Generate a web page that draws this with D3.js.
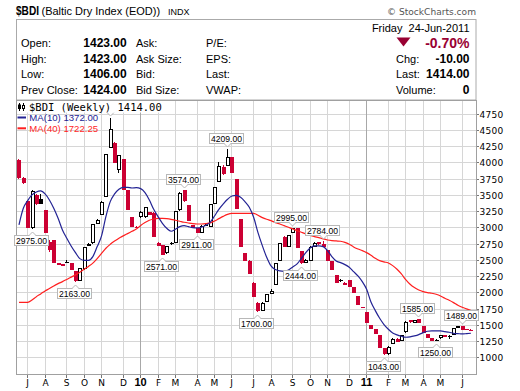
<!DOCTYPE html>
<html><head><meta charset="utf-8">
<script src="https://cdn.jsdelivr.net/npm/d3@7"></script>
<style>html,body{margin:0;padding:0;background:#fff;}svg{display:block;}</style>
</head><body><svg id="c" width="520" height="391"></svg>
<script>
// ---------- DATA ----------
const weekStart = "2009-06-22", weekEnd = "2011-06-20"; // Monday of first / last weekly bar
const opens  = [4040,3760,3400,2990,3500,3430,3270,2780,2800,2455,2430,2475,2458,2330,2182,2360,2715,2756,3060,3190,3474,4228,4305,3884,4048,3576,3156,3012,3157,3160,3230,3225,2766,2725,2602,2760,2766,3269,3574,3346,3038,2987,2915,3040,3013,3361,3705,3925,3951,4079,3746,3125,2602,2490,2151,1843,1720,1858,1976,2115,2489,2859,2705,2920,2987,2638,2460,2489,2705,2770,2740,2653,2489,2269,2185,2120,2192,2079,1945,1776,1694,1500,1433,1346,1141,1048,1207,1290,1254,1387,1577,1536,1585,1484,1356,1294,1275,1294,1346,1336,1346,1455,1489,1430,1423];
const highs  = [4060,3770,3400,3580,3510,3510,3270,2800,2800,2460,2440,2495,2460,2335,2375,2705,2760,3055,3130,3400,4130,4679,4310,4120,4050,3580,3160,3020,3260,3320,3240,3230,2780,2730,2720,2775,3260,3540,3574,3350,3040,2990,3030,3050,3365,3620,4000,3960,4209,4080,3750,3130,2605,2495,2155,1845,1845,1980,2050,2460,2760,2865,2890,2995,2990,2640,2510,2710,2770,2775,2784,2655,2490,2270,2205,2160,2195,2080,1950,1780,1700,1505,1435,1350,1145,1170,1295,1295,1350,1555,1580,1580,1585,1485,1360,1295,1285,1350,1350,1340,1460,1485,1489,1435,1430];
const lows   = [3750,3670,2990,2975,3350,3360,2910,2620,2450,2420,2405,2445,2350,2163,2175,2350,2710,2750,3055,3185,3470,4220,3987,3840,3576,3269,3002,2995,3150,3150,3190,2848,2710,2571,2595,2735,2760,3260,3397,3105,2987,2911,2912,3025,3010,3355,3700,3800,3945,3843,3289,2694,2490,2284,1925,1700,1715,1855,1970,2110,2485,2705,2700,2910,2679,2444,2455,2485,2700,2735,2705,2489,2346,2151,2160,2110,2079,1997,1807,1766,1525,1433,1361,1141,1043,1043,1200,1243,1250,1380,1536,1530,1525,1371,1294,1259,1250,1290,1310,1290,1340,1450,1420,1415,1406];
const closes = [3760,3680,2990,3560,3356,3365,2910,2650,2455,2425,2412,2465,2350,2182,2370,2705,2745,3053,3115,3397,4125,4510,3990,4115,3580,3270,3005,3000,3243,3310,3195,2850,2715,2575,2715,2745,3254,3525,3400,3105,2990,2915,3023,3030,3361,3617,3946,3823,4079,3845,3290,2695,2490,2285,1925,1720,1843,1976,2028,2458,2756,2705,2884,2990,2680,2450,2505,2705,2766,2740,2705,2490,2346,2151,2178,2150,2080,1997,1807,1768,1525,1433,1361,1141,1050,1166,1290,1243,1346,1551,1540,1580,1525,1371,1294,1260,1270,1346,1310,1315,1459,1480,1424,1420,1414];
const ma10 = [3040,3294,3412,3500,3546,3561,3515,3422,3294,3140,2961,2833,2715,2612,2520,2494,2494,2551,2705,2869,3166,3397,3515,3587,3617,3617,3607,3612,3597,3535,3422,3279,3166,3064,2987,2941,2971,3012,3028,3012,2997,2992,3002,3033,3079,3176,3279,3361,3433,3484,3494,3464,3397,3310,3156,2920,2720,2541,2407,2351,2330,2325,2346,2392,2438,2525,2612,2684,2715,2715,2705,2643,2551,2484,2459,2428,2387,2320,2253,2166,2048,1853,1720,1602,1505,1433,1376,1346,1325,1310,1315,1330,1351,1382,1402,1407,1407,1407,1397,1387,1371,1366,1361,1366,1372];
const ma40 = [1848,1848,1848,1884,1935,1977,2023,2059,2100,2135,2166,2200,2235,2270,2310,2356,2400,2450,2520,2600,2680,2740,2790,2835,2870,2905,2940,2975,3030,3075,3110,3130,3140,3140,3135,3125,3110,3095,3080,3068,3058,3053,3053,3058,3070,3100,3135,3170,3200,3215,3217,3217,3217,3217,3217,3187,3151,3125,3105,3074,3053,3028,3002,2977,2951,2925,2900,2879,2859,2843,2823,2807,2797,2792,2787,2771,2741,2700,2669,2643,2612,2571,2525,2489,2469,2453,2412,2356,2284,2197,2125,2074,2038,2013,1997,1987,1971,1946,1910,1879,1843,1802,1771,1746,1722.25];
const yTicks = [1000,1250,1500,1750,2000,2250,2500,2750,3000,3250,3500,3750,4000,4250,4500,4750];
const monthTicks = [["J","2009-07-06"],["A","2009-08-03"],["S","2009-09-07"],["O","2009-10-05"],["N","2009-11-02"],["D","2009-12-07"],["10","2010-01-04"],["F","2010-02-01"],["M","2010-03-01"],["A","2010-04-05"],["M","2010-05-03"],["J","2010-05-31"],["J","2010-07-05"],["A","2010-08-02"],["S","2010-09-06"],["O","2010-10-04"],["N","2010-11-01"],["D","2010-12-06"],["11","2011-01-03"],["F","2011-02-07"],["M","2011-03-07"],["A","2011-04-04"],["M","2011-05-02"],["J","2011-06-06"]];
const annotations = [[3,"low"],[13,"low"],[33,"low"],[38,"high"],[41,"low"],[48,"high"],[55,"low"],[63,"high"],[65,"low"],[70,"high"],[84,"low"],[92,"high"],[96,"low"],[102,"high"]];
const hiddenAnnotations = [[21,"high"]]; // label box covered by the legend; only its tail shows
const quoteLeft = [["Open:","1423.00","Ask:","P/E:"],["High:","1423.00","Ask Size:","EPS:"],["Low:","1406.00","Bid:","Last:"],["Prev Close:","1424.00","Bid Size:","VWAP:"]];
const quoteRight = [["Chg:","-10.00"],["Last:","1414.00"],["Volume:","0"]];

// ---------- DRAW ----------
const RED = "#cc0033", DARKRED = "#990033", NAVY = "#232394", MARED = "#ff1f1f";
const ARIAL = "'Liberation Sans', Arial, sans-serif";
const VERD = "'DejaVu Sans', Verdana, sans-serif";
const svg = d3.select("#c");
svg.append("rect").attr("width",520).attr("height",391).attr("fill","#fff");
const L=16, R=476, T=100, B=375;
const parse = d3.utcParse("%Y-%m-%d");
const weeks = d3.utcMonday.range(parse(weekStart), d3.utcDay.offset(parse(weekEnd),1));
const x = d3.scaleUtc().domain([d3.utcDay.offset(parse(weekStart),-4), d3.utcDay.offset(parse(weekEnd),9)]).range([L,R]);
const y = d3.scaleLinear().domain([1000,4750]).range([357.4,113.7]);
const bars = weeks.map((d,i)=>({d, o:opens[i], h:highs[i], l:lows[i], c:closes[i], pc: i? closes[i-1] : opens[i]}));

// header
svg.append("text").attr("x",16).attr("y",15).attr("font-family",ARIAL).attr("font-weight","bold").attr("font-size",12)
  .attr("textLength",23).attr("lengthAdjust","spacingAndGlyphs").text("$BDI");
svg.append("text").attr("x",41.5).attr("y",15).attr("font-family",ARIAL).attr("font-size",11).text("(Baltic Dry Index (EOD))");
svg.append("text").attr("x",168).attr("y",15).attr("font-family",ARIAL).attr("font-size",9).text("INDX");
svg.append("text").attr("x",476).attr("y",15).attr("text-anchor","end").attr("font-family",VERD).attr("font-size",9.5).attr("fill","#555")
  .attr("textLength",89).attr("lengthAdjust","spacingAndGlyphs").text("\u00A9 StockCharts.com");
svg.append("rect").attr("x",16.5).attr("y",19.5).attr("width",459.5).attr("height",80.5).attr("fill","#fff").attr("stroke","#aaa");
const rowY = [47.3,62.8,78.3,94];
quoteLeft.forEach((r,i)=>{
  svg.append("text").attr("x",21).attr("y",rowY[i]).attr("font-family",ARIAL).attr("font-size",11).text(r[0]);
  svg.append("text").attr("x",126.7).attr("y",rowY[i]).attr("text-anchor","end").attr("font-family",ARIAL).attr("font-weight","bold").attr("font-size",12).text(r[1]);
  svg.append("text").attr("x",136).attr("y",rowY[i]).attr("font-family",ARIAL).attr("font-size",11).text(r[2]);
  svg.append("text").attr("x",206).attr("y",rowY[i]).attr("font-family",ARIAL).attr("font-size",11).text(r[3]);
});
svg.append("text").attr("x",469.5).attr("y",31.5).attr("text-anchor","end").attr("font-family",ARIAL).attr("font-size",11).attr("xml:space","preserve").text("Friday  24-Jun-2011");
svg.append("path").attr("d","M396.5,37.5 L410.5,37.5 L403.5,46.5 Z").attr("fill",DARKRED);
svg.append("text").attr("x",469.5).attr("y",47.8).attr("text-anchor","end").attr("font-family",ARIAL).attr("font-weight","bold").attr("font-size",14).attr("fill",DARKRED).text("-0.70%");
quoteRight.forEach((r,i)=>{
  svg.append("text").attr("x",396).attr("y",rowY[i+1]).attr("font-family",ARIAL).attr("font-size",11).text(r[0]);
  svg.append("text").attr("x",469.5).attr("y",rowY[i+1]).attr("text-anchor","end").attr("font-family",ARIAL).attr("font-weight","bold").attr("font-size",12).text(r[1]);
});

// plot area
svg.append("rect").attr("x",L).attr("y",T).attr("width",R-L).attr("height",B-T).attr("fill","#fff");
const grid = svg.append("g");
yTicks.forEach(t=>{
  const yy = Math.round(y(t))+0.5;
  grid.append("line").attr("x1",L).attr("x2",R).attr("y1",yy).attr("y2",yy).attr("stroke","#d6d6d6");
  svg.append("line").attr("x1",R).attr("x2",R+3).attr("y1",yy).attr("y2",yy).attr("stroke","#777");
  svg.append("text").attr("x",479.5).attr("y",yy+3.3).attr("font-family",VERD).attr("font-size",9).attr("letter-spacing",0.3).text(t);
});
monthTicks.forEach(([lab,ds])=>{
  const xx = Math.round(x(parse(ds)))+0.5;
  const isYear = lab.length>1;
  grid.append("line").attr("x1",xx).attr("x2",xx).attr("y1",T).attr("y2",B).attr("stroke",isYear?"#a8a8a8":"#d6d6d6");
  svg.append("line").attr("x1",xx).attr("x2",xx).attr("y1",B).attr("y2",B+3).attr("stroke","#777");
  svg.append("text").attr("x",xx).attr("y",385.7).attr("text-anchor","middle")
    .attr("font-family",isYear?ARIAL:VERD).attr("font-weight",isYear?"bold":"normal").attr("font-size",isYear?11:9).text(lab);
});
svg.append("rect").attr("x",L+0.5).attr("y",T+0.5).attr("width",R-L).attr("height",B-T-1).attr("fill","none").attr("stroke","#a0a0a0");

svg.append("clipPath").attr("id","clip").append("rect").attr("x",L+1).attr("y",T+1).attr("width",R-L-1).attr("height",B-T-2);
const pg = svg.append("g").attr("clip-path","url(#clip)");

// candles
const cg = pg.append("g");
bars.forEach((b,i)=>{
  const c = Math.round(x(b.d));
  const col = (i>0 && b.c >= b.pc) ? "#000" : RED;
  const hollow = b.c > b.o;
  const yt = Math.round(y(Math.max(b.o,b.c))), yb = Math.round(y(Math.min(b.o,b.c)));
  const yh = Math.round(y(b.h)), yl = Math.round(y(b.l));
  cg.append("line").attr("x1",c+0.5).attr("x2",c+0.5).attr("y1",yh).attr("y2",yl).attr("stroke",col);
  if (hollow) {
    cg.append("rect").attr("x",c-0.5).attr("y",yt+0.5).attr("width",3).attr("height",Math.max(yb-yt-1,1)).attr("fill","#fff").attr("stroke",col);
  } else {
    cg.append("rect").attr("x",c-1).attr("y",yt).attr("width",4).attr("height",Math.max(yb-yt,1)).attr("fill",col);
  }
});

// moving averages
const line = d3.line().x((d,i)=>x(weeks[i])+0.5).y(d=>y(d)).curve(d3.curveMonotoneX);
pg.append("path").attr("d",line(ma40)).attr("fill","none").attr("stroke",MARED).attr("stroke-width",1.2);
pg.append("path").attr("d",line(ma10)).attr("fill","none").attr("stroke",NAVY).attr("stroke-width",1.2);

// annotations
const ag = svg.append("g");
function tail(c, edge, tip, s){
  ag.append("path").attr("d",`M${c-3.5},${edge+s} L${c},${tip} L${c+3.5},${edge+s} Z`).attr("fill","#fff");
  ag.append("path").attr("d",`M${c-3.5},${edge} L${c},${tip} L${c+3.5},${edge}`).attr("fill","none").attr("stroke","#b8b8b8");
}
function geom(i,pos){
  const b = bars[i], c = Math.round(x(b.d))+0.5;
  const v = pos==="low" ? b.l : b.h;
  const py = y(v), bh = 10;
  let top, edge, tip;
  if (pos==="low") { top = Math.round(py+6)+0.5; edge = top; tip = top-3.5; }
  else { top = Math.round(py-6-bh)+0.5; edge = top+bh; tip = edge+3.5; }
  return {c, v, top, edge, tip, s: pos==="low"?0.7:-0.7};
}
annotations.forEach(([i,pos])=>{
  const g = geom(i,pos), bw = 34, bh = 10;
  const bx = Math.round(g.c-19)+0.5;
  ag.append("rect").attr("x",bx).attr("y",g.top).attr("width",bw).attr("height",bh).attr("fill","#fff").attr("stroke","#b8b8b8");
  tail(g.c, g.edge, g.tip, g.s);
  ag.append("text").attr("x",bx+bw/2).attr("y",g.top+8.2).attr("text-anchor","middle").attr("font-family",ARIAL).attr("font-size",8.6).text(d3.format(".2f")(g.v));
});
hiddenAnnotations.forEach(([i,pos])=>{
  const g = geom(i,pos);
  tail(g.c, g.edge, g.tip, g.s);
});

// legend
svg.append("rect").attr("x",17).attr("y",101).attr("width",148).attr("height",11.5).attr("fill","#fff");
const ic = svg.append("g");
ic.append("line").attr("x1",19.5).attr("x2",19.5).attr("y1",103).attr("y2",111).attr("stroke","#000");
ic.append("rect").attr("x",18).attr("y",104.5).attr("width",3).attr("height",4.5).attr("fill","#000");
ic.append("line").attr("x1",23.5).attr("x2",23.5).attr("y1",103).attr("y2",111).attr("stroke","#000");
ic.append("rect").attr("x",22.5).attr("y",105.5).attr("width",2).attr("height",3).attr("fill","#fff").attr("stroke","#000");
svg.append("text").attr("x",29).attr("y",110.5).attr("font-family","'DejaVu Sans Mono', monospace").attr("font-size",10.5).text("$BDI (Weekly) " + d3.format(".2f")(closes[closes.length-1]));
svg.append("line").attr("x1",17.5).attr("x2",26).attr("y1",117.5).attr("y2",117.5).attr("stroke",NAVY).attr("stroke-width",2);
svg.append("text").attr("x",29.3).attr("y",121).attr("font-family",ARIAL).attr("font-size",9.6).attr("fill",NAVY).text("MA(10) " + d3.format(".2f")(ma10[ma10.length-1]));
svg.append("line").attr("x1",17.5).attr("x2",26).attr("y1",128.3).attr("y2",128.3).attr("stroke",MARED).attr("stroke-width",2);
svg.append("text").attr("x",29.3).attr("y",131.8).attr("font-family",ARIAL).attr("font-size",9.6).attr("fill",MARED).text("MA(40) " + d3.format(".2f")(ma40[ma40.length-1]));
</script></body></html>
